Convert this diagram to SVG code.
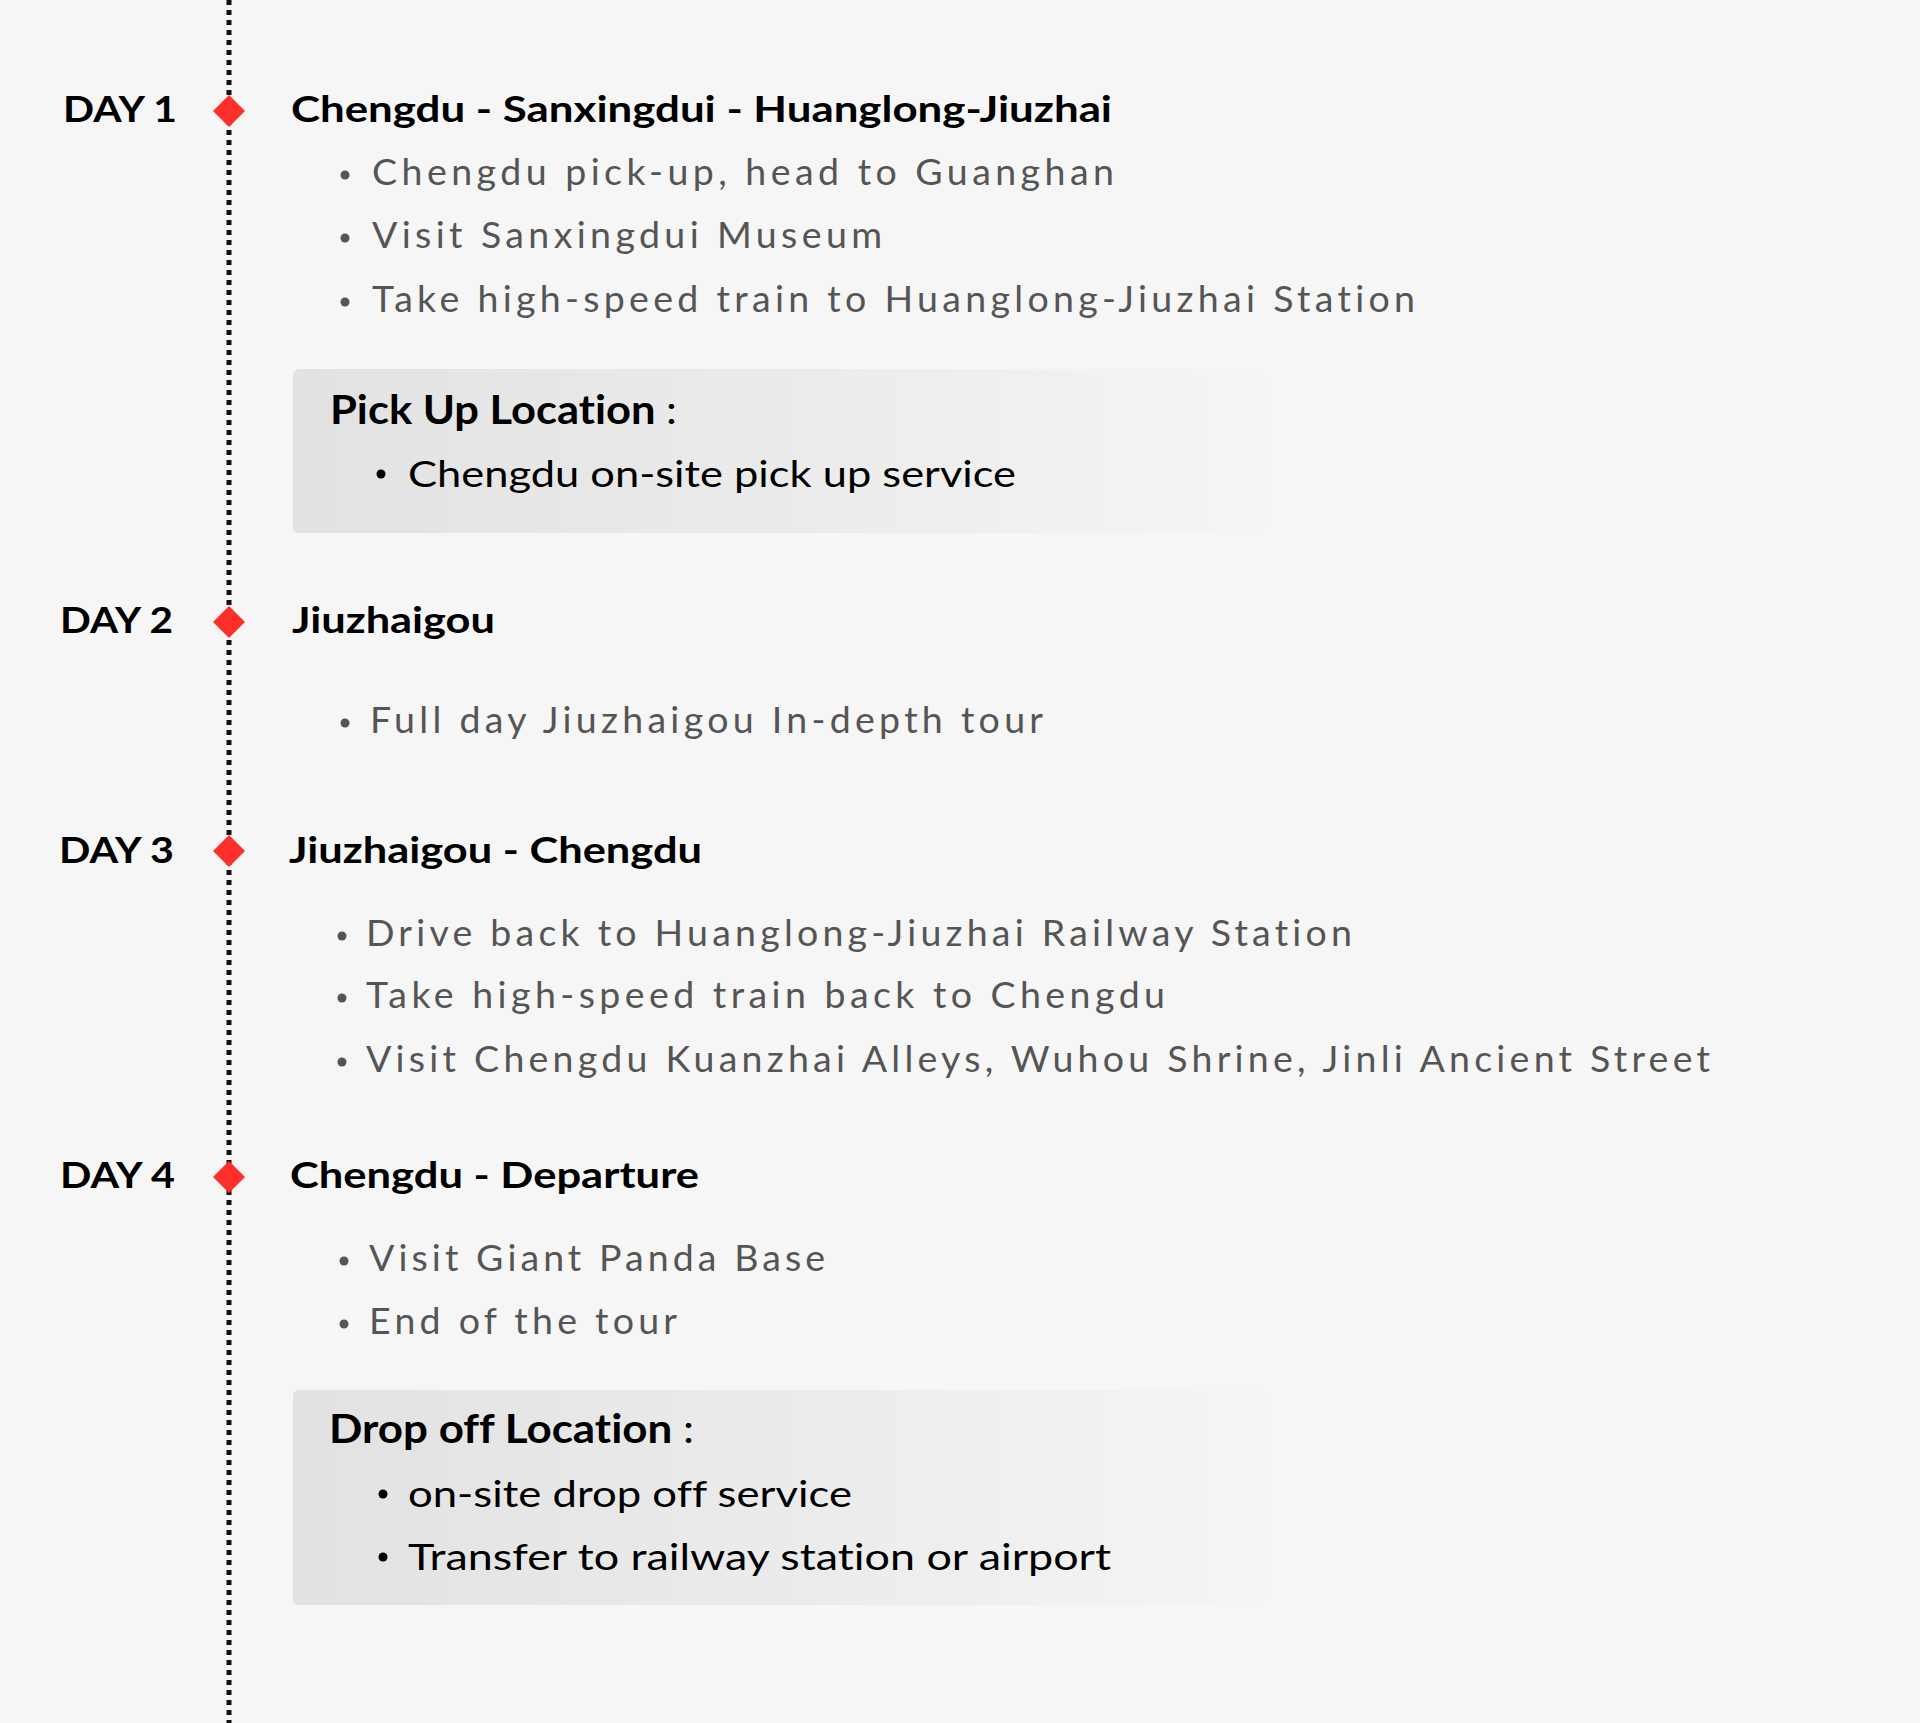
<svg xmlns="http://www.w3.org/2000/svg" width="1920" height="1723" viewBox="0 0 1920 1723">
<defs>
<style>
text{font-variant-ligatures:none;font-feature-settings:"liga" 0}
.day{font-family:Lato,"Open Sans","Liberation Sans",sans-serif;font-weight:700;font-size:37px;fill:#000}
.hd{font-family:Lato,"Open Sans","Liberation Sans",sans-serif;font-weight:700;font-size:37px;fill:#000}
.tx{font-family:Lato,"Open Sans","Liberation Sans",sans-serif;font-size:37.5px;fill:#555}
.bt{font-family:Lato,"Open Sans","Liberation Sans",sans-serif;font-weight:700;font-size:40px;fill:#000}
.col{font-weight:400}
.bb{font-family:Lato,"Open Sans","Liberation Sans",sans-serif;font-size:37px;fill:#000}
.dot{fill:#555}
.bdot{fill:#000}
.dia{fill:#fe2f2b}
.box{fill:url(#bg)}
</style>
<linearGradient id="bg" x1="0" y1="0" x2="1" y2="0">
<stop offset="0" stop-color="#e2e2e2"/>
<stop offset="0.55" stop-color="#ececec"/>
<stop offset="1" stop-color="#f5f5f5"/>
</linearGradient>
</defs>
<rect width="1920" height="1723" fill="#f6f6f6"/>
<g id="connectors">
<line x1="229" y1="0" x2="229" y2="1723" stroke="#111" stroke-width="5" stroke-dasharray="5 5"/>
</g>
<g id="day1">
<text class="day" x="63" y="122" textLength="114" lengthAdjust="spacingAndGlyphs">DAY 1</text>
<path class="dia" d="M229 95 L245 111 L229 127 L213 111 Z"/>
<text class="hd" x="291" y="122" textLength="821" lengthAdjust="spacingAndGlyphs">Chengdu - Sanxingdui - Huanglong-Jiuzhai</text>
<circle class="dot" cx="345" cy="175" r="4.5"/>
<text class="tx" x="372" y="185" textLength="742" lengthAdjust="spacing">Chengdu pick-up, head to Guanghan</text>
<circle class="dot" cx="345" cy="238" r="4.5"/>
<text class="tx" x="372" y="248" textLength="510" lengthAdjust="spacing">Visit Sanxingdui Museum</text>
<circle class="dot" cx="345" cy="302" r="4.5"/>
<text class="tx" x="372" y="312" textLength="1043" lengthAdjust="spacing">Take high-speed train to Huanglong-Jiuzhai Station</text>
</g>
<g id="pickup">
<rect class="box" x="293" y="369" width="972" height="164" rx="6"/>
<text class="bt" x="330" y="424" textLength="347" lengthAdjust="spacingAndGlyphs">Pick Up Location <tspan class="col">:</tspan></text>
<circle class="bdot" cx="381" cy="474" r="4.5"/>
<text class="bb" x="408" y="487" textLength="608" lengthAdjust="spacingAndGlyphs">Chengdu on-site pick up service</text>
</g>
<g id="day2">
<text class="day" x="60" y="633" textLength="113" lengthAdjust="spacingAndGlyphs">DAY 2</text>
<path class="dia" d="M229 606 L245 622 L229 638 L213 622 Z"/>
<text class="hd" x="292" y="633" textLength="203" lengthAdjust="spacingAndGlyphs">Jiuzhaigou</text>
<circle class="dot" cx="345" cy="723" r="4.5"/>
<text class="tx" x="370" y="733" textLength="673" lengthAdjust="spacing">Full day Jiuzhaigou In-depth tour</text>
</g>
<g id="day3">
<text class="day" x="59" y="863" textLength="115" lengthAdjust="spacingAndGlyphs">DAY 3</text>
<path class="dia" d="M229 835 L245 851 L229 867 L213 851 Z"/>
<text class="hd" x="289" y="863" textLength="413" lengthAdjust="spacingAndGlyphs">Jiuzhaigou - Chengdu</text>
<circle class="dot" cx="342" cy="936" r="4.5"/>
<text class="tx" x="366" y="946" textLength="986" lengthAdjust="spacing">Drive back to Huanglong-Jiuzhai Railway Station</text>
<circle class="dot" cx="342" cy="998" r="4.5"/>
<text class="tx" x="366" y="1008" textLength="799" lengthAdjust="spacing">Take high-speed train back to Chengdu</text>
<circle class="dot" cx="342" cy="1062" r="4.5"/>
<text class="tx" x="366" y="1072" textLength="1344" lengthAdjust="spacing">Visit Chengdu Kuanzhai Alleys, Wuhou Shrine, Jinli Ancient Street</text>
</g>
<g id="day4">
<text class="day" x="60" y="1188" textLength="115" lengthAdjust="spacingAndGlyphs">DAY 4</text>
<path class="dia" d="M229 1161 L245 1177 L229 1193 L213 1177 Z"/>
<text class="hd" x="290" y="1188" textLength="409" lengthAdjust="spacingAndGlyphs">Chengdu - Departure</text>
<circle class="dot" cx="344" cy="1261" r="4.5"/>
<text class="tx" x="369" y="1271" textLength="456" lengthAdjust="spacing">Visit Giant Panda Base</text>
<circle class="dot" cx="344" cy="1324" r="4.5"/>
<text class="tx" x="369" y="1334" textLength="308" lengthAdjust="spacing">End of the tour</text>
</g>
<g id="dropoff">
<rect class="box" x="293" y="1390" width="972" height="215" rx="6"/>
<text class="bt" x="329" y="1443" textLength="365" lengthAdjust="spacingAndGlyphs">Drop off Location <tspan class="col">:</tspan></text>
<circle class="bdot" cx="383" cy="1494" r="4.5"/>
<text class="bb" x="408" y="1507" textLength="444" lengthAdjust="spacingAndGlyphs">on-site drop off service</text>
<circle class="bdot" cx="383" cy="1557" r="4.5"/>
<text class="bb" x="408" y="1570" textLength="703" lengthAdjust="spacingAndGlyphs">Transfer to railway station or airport</text>
</g>
</svg>
